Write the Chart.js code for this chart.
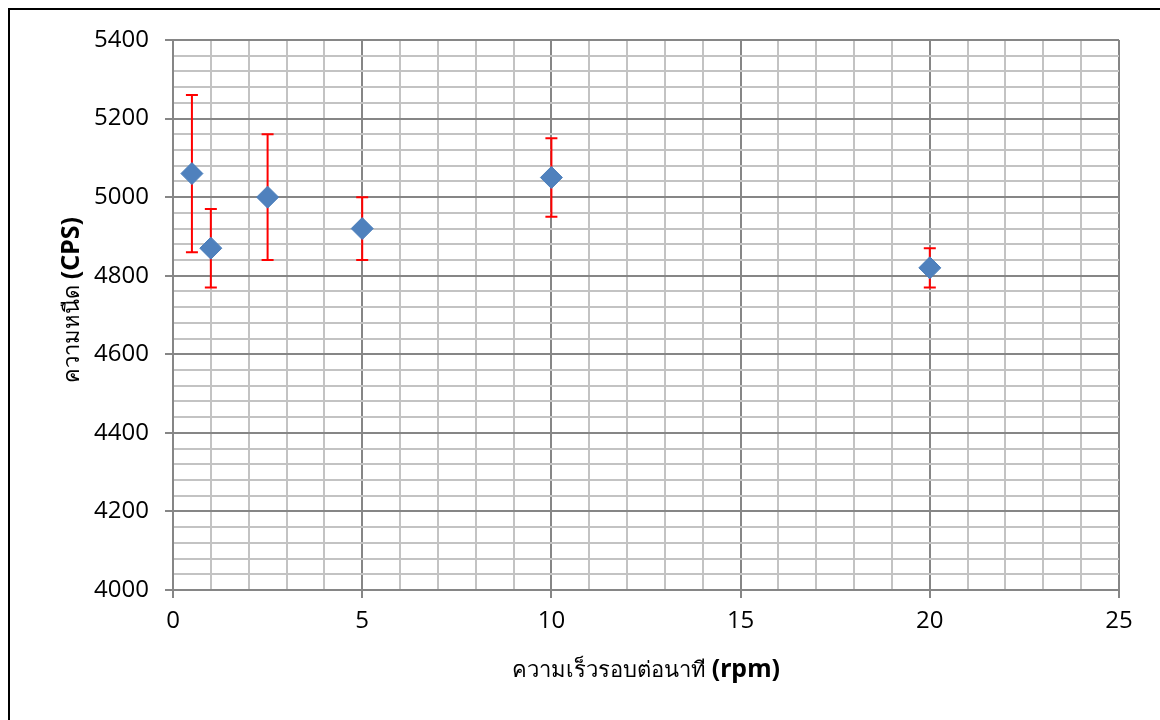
<!DOCTYPE html>
<html>
<head>
<meta charset="utf-8">
<script src="https://cdn.jsdelivr.net/npm/chart.js@4.4.1/dist/chart.umd.min.js"></script>
<style>
  html, body { margin: 0; padding: 0; background: #fff; }
  #wrap { width: 1160px; height: 720px; position: relative; }
</style>
</head>
<body>
<div id="wrap"><canvas id="chart" width="1160" height="720"></canvas></div>
<script>
// viscosity vs spindle speed

const speeds = [0.5, 1, 2.5, 5, 10, 20];
const viscosity = [5060, 4870, 5000, 4920, 5050, 4820];
const viscosityErr = [200, 100, 160, 80, 100, 50];

const xTitleThai = "ความเร็วรอบต่อนาที";
const xTitleUnit = "(rpm)";
const yTitleThai = "ความหนืด";
const yTitleUnit = "(CPS)";

const tickFont = "'Open Sans'";
const thaiFont = "Tahoma, 'Noto Sans', 'DejaVu Sans', sans-serif";

const majorGrid = '#868686';
const minorGrid = '#c3c3c3';

// draws the red error bars under the markers
const errorBars = {
  id: 'errorBars',
  beforeDatasetsDraw(chart) {
    const c = chart.ctx;
    const xs = chart.scales.x;
    const ys = chart.scales.y;
    c.save();
    c.strokeStyle = '#ff0000';
    c.lineWidth = 2;
    speeds.forEach((sp, i) => {
      const px = xs.getPixelForValue(sp);
      const top = ys.getPixelForValue(viscosity[i] + viscosityErr[i]);
      const bot = ys.getPixelForValue(viscosity[i] - viscosityErr[i]);
      c.beginPath();
      c.moveTo(px, top); c.lineTo(px, bot);
      c.moveTo(px - 6, top); c.lineTo(px + 6, top);
      c.moveTo(px - 6, bot); c.lineTo(px + 6, bot);
      c.stroke();
    });
    c.restore();
  }
};

// axis titles with mixed weight + outer frame
const titles = {
  id: 'titles',
  afterDraw(chart) {
    const c = chart.ctx;
    c.save();
    c.strokeStyle = '#000';
    c.lineWidth = 2;
    c.strokeRect(9, 9, 1160, 730);

    c.fillStyle = '#000';
    c.textBaseline = 'alphabetic';
    // x title
    const f1 = "22px " + thaiFont;
    const f2 = "bold 25px " + thaiFont;
    c.font = f1;
    const w1 = c.measureText(xTitleThai + " ").width;
    c.font = f2;
    const w2 = c.measureText(xTitleUnit).width;
    let x0 = 646 - (w1 + w2) / 2;
    c.font = f1;
    c.fillText(xTitleThai + " ", x0, 677);
    c.font = f2;
    c.fillText(xTitleUnit, x0 + w1, 677);

    // y title (rotated)
    c.translate(79, 300);
    c.rotate(-Math.PI / 2);
    c.font = f1;
    const h1 = c.measureText(yTitleThai + " ").width;
    c.font = f2;
    const h2 = c.measureText(yTitleUnit).width;
    let y0 = -(h1 + h2) / 2;
    c.font = f1;
    c.fillText(yTitleThai + " ", y0, 0);
    c.font = f2;
    c.fillText(yTitleUnit, y0 + h1, 0);
    c.restore();
  }
};

const ctx = document.getElementById('chart');
const mychart = new Chart(ctx, {
  type: 'scatter',
  data: {
    datasets: [{
      data: speeds.map((s, i) => ({x: s, y: viscosity[i]})),
      pointStyle: 'rectRot',
      pointRadius: 11,
      pointHoverRadius: 11,
      backgroundColor: '#4f81bd',
      borderColor: '#4a7ebb',
      borderWidth: 1
    }]
  },
  plugins: [errorBars, titles],
  options: {
    responsive: false,
    animation: false,
    events: [],
    layout: { padding: { left: 0, right: 41, top: 40, bottom: 0 } },
    plugins: { legend: { display: false }, tooltip: { enabled: false } },
    scales: {
      x: {
        type: 'linear',
        min: 0,
        max: 25,
        afterFit(scale) { scale.height = 130; },
        ticks: {
          stepSize: 1,
          autoSkip: false,
          maxRotation: 0,
          padding: 9,
          color: '#000',
          font: { family: tickFont, size: 24 },
          callback: v => (v % 5 === 0 ? v : '')
        },
        grid: {
          color: c => (c.tick && c.tick.value % 5 === 0 ? majorGrid : minorGrid),
          tickColor: c => (c.tick && c.tick.value % 5 === 0 ? majorGrid : 'rgba(0,0,0,0)'),
          lineWidth: 2,
          tickLength: 8
        },
        border: { color: majorGrid, width: 2 }
      },
      y: {
        type: 'linear',
        min: 4000,
        max: 5400,
        afterFit(scale) { scale.width = 173; },
        ticks: {
          stepSize: 40,
          autoSkip: false,
          padding: 16,
          color: '#000',
          font: { family: tickFont, size: 24 },
          callback: v => (v % 200 === 0 ? v : '')
        },
        grid: {
          color: c => (c.tick && c.tick.value % 200 === 0 ? majorGrid : minorGrid),
          tickColor: c => (c.tick && c.tick.value % 200 === 0 ? majorGrid : 'rgba(0,0,0,0)'),
          lineWidth: 2,
          tickLength: 8
        },
        border: { color: majorGrid, width: 2 }
      }
    }
  }
});
</script>
</body>
</html>
